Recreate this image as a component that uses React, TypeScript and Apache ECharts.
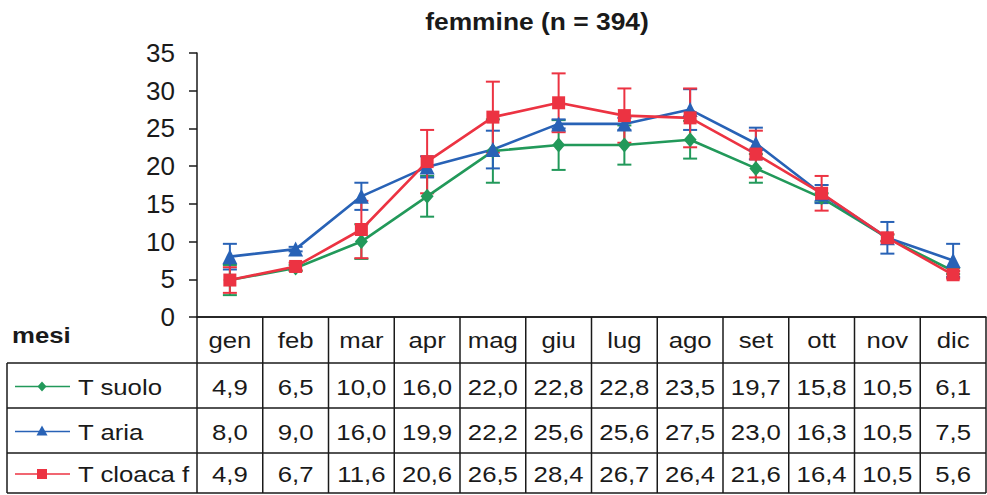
import React, { useEffect, useRef } from "react";
import * as echarts from "echarts";

// Monthly mean temperatures (°C) and their standard deviations
const months = ["gen", "feb", "mar", "apr", "mag", "giu", "lug", "ago", "set", "ott", "nov", "dic"];
const tSuolo = [4.9, 6.5, 10.0, 16.0, 22.0, 22.8, 22.8, 23.5, 19.7, 15.8, 10.5, 6.1];
const tAria = [8.0, 9.0, 16.0, 19.9, 22.2, 25.6, 25.6, 27.5, 23.0, 16.3, 10.5, 7.5];
const tCloaca = [4.9, 6.7, 11.6, 20.6, 26.5, 28.4, 26.7, 26.4, 21.6, 16.4, 10.5, 5.6];
const sdSuolo = [2.0, 0.4, 2.3, 2.7, 4.2, 3.3, 2.6, 2.5, 1.9, 0.6, 0.4, 0.4];
const sdAria = [1.7, 0.3, 1.8, 1.4, 2.5, 0.6, 0.8, 2.7, 2.1, 1.2, 2.1, 2.2];
const sdCloaca = [1.7, 0.5, 3.8, 4.2, 4.7, 3.9, 3.6, 3.9, 3.1, 2.3, 0.5, 0.5];
const seriesNames = ["T suolo", "T aria", "T cloaca f"];
const titleText = "femmine (n = 394)";
const rowHeaderText = "mesi";

const GREEN = "#22995a";
const BLUE = "#2862b6";
const RED = "#ec3342";
const FONT = "Liberation Sans, Arial, sans-serif";
const INK = "#1a1a1a";
const TEXT_STRETCH = 1.12;

const fmt = (v: number) => v.toFixed(1).replace(".", ",");

function errorSeries(values: number[], sd: number[], color: string) {
  return {
    type: "custom",
    renderItem: (_params: any, api: any) => {
      const i = api.value(0);
      const v = api.value(1);
      const e = api.value(2);
      const top = api.coord([i, v + e]);
      const bot = api.coord([i, v - e]);
      const cap = 7;
      const style = { stroke: color, lineWidth: 2 };
      return {
        type: "group",
        children: [
          { type: "line", shape: { x1: top[0], y1: top[1], x2: bot[0], y2: bot[1] }, style },
          { type: "line", shape: { x1: top[0] - cap, y1: top[1], x2: top[0] + cap, y2: top[1] }, style },
          { type: "line", shape: { x1: bot[0] - cap, y1: bot[1], x2: bot[0] + cap, y2: bot[1] }, style },
        ],
      };
    },
    encode: { x: 0, y: 1 },
    data: values.map((v, i) => [i, v, sd[i]]),
    silent: true,
  };
}

function lineSeries(name: string, values: number[], color: string, symbol: string, size: any) {
  return {
    name,
    type: "line",
    data: values,
    symbol,
    symbolSize: size,
    lineStyle: { color, width: 2.6 },
    itemStyle: { color },
  };
}

export default function App() {
  const ref = useRef<HTMLDivElement>(null);

  useEffect(() => {
    if (!ref.current) return;
    const chart = echarts.init(ref.current, null, { renderer: "svg" });
    chart.setOption({
      animation: false,
      backgroundColor: "#ffffff",
      grid: { left: 197, right: 1, top: 53, bottom: 178, outerBoundsMode: "none" },
      xAxis: {
        type: "category",
        data: months,
        boundaryGap: true,
        axisLine: { show: true, lineStyle: { color: INK, width: 1.5 } },
        axisTick: { show: false },
        axisLabel: { show: false },
        splitLine: { show: false },
      },
      yAxis: {
        type: "value",
        min: 0,
        max: 35,
        interval: 5,
        axisLine: { show: true, lineStyle: { color: INK, width: 1.5 } },
        axisTick: { show: true, length: 8, lineStyle: { color: INK, width: 1.5 } },
        axisLabel: { color: INK, fontSize: 26, fontFamily: FONT, margin: 22 },
        splitLine: { show: false },
      },
      series: [
        errorSeries(tSuolo, sdSuolo, GREEN),
        lineSeries(seriesNames[0], tSuolo, GREEN, "diamond", [13, 15]),
        errorSeries(tAria, sdAria, BLUE),
        lineSeries(seriesNames[1], tAria, BLUE, "triangle", 15),
        errorSeries(tCloaca, sdCloaca, RED),
        lineSeries(seriesNames[2], tCloaca, RED, "rect", 13),
      ],
    });

    // Data table under the plot, aligned on the category axis
    const centers = months.map((m) => chart.convertToPixel({ xAxisIndex: 0 }, m) as number);
    const colW = centers[1] - centers[0];
    const tableLeft = centers[0] - colW / 2;
    const tableRight = centers[centers.length - 1] + colW / 2;
    const rowLines = [317, 363, 408, 453, 493];
    const outerLeft = 7;
    const lineStyle = { stroke: INK, lineWidth: 1.5 };
    const els: any[] = [];

    els.push({
      type: "text",
      x: 537,
      y: 21,
      scaleX: 1.1,
      style: { text: titleText, fontSize: 24, fontWeight: "bold", fontFamily: FONT, fill: INK, align: "center", verticalAlign: "middle" },
    });

    // horizontal rules
    els.push({ type: "line", shape: { x1: tableLeft, y1: rowLines[0], x2: tableRight, y2: rowLines[0] }, style: lineStyle });
    for (let r = 1; r < rowLines.length; r++) {
      els.push({ type: "line", shape: { x1: outerLeft, y1: rowLines[r], x2: tableRight, y2: rowLines[r] }, style: lineStyle });
    }
    // vertical rules
    els.push({ type: "line", shape: { x1: outerLeft, y1: rowLines[1], x2: outerLeft, y2: rowLines[4] }, style: lineStyle });
    for (let c = 0; c <= months.length; c++) {
      const x = tableLeft + c * colW;
      els.push({ type: "line", shape: { x1: x, y1: rowLines[0], x2: x, y2: rowLines[4] }, style: lineStyle });
    }

    const cellText = (text: string, x: number, y: number, align = "center", bold = false) => ({
      type: "text",
      x,
      y,
      scaleX: TEXT_STRETCH,
      style: { text, fontSize: 23, fontFamily: FONT, fontWeight: bold ? "bold" : "normal", fill: INK, align, verticalAlign: "middle" },
    });

    els.push(cellText(rowHeaderText, 12, 335, "left", true));
    months.forEach((m, i) => els.push(cellText(m, centers[i], 340)));

    const rows = [
      { values: tSuolo, color: GREEN, marker: "diamond" },
      { values: tAria, color: BLUE, marker: "triangle" },
      { values: tCloaca, color: RED, marker: "square" },
    ];
    rows.forEach((row, r) => {
      const yc = (rowLines[r + 1] + rowLines[r + 2]) / 2 + 1;
      els.push({ type: "line", shape: { x1: 15, y1: yc, x2: 70, y2: yc }, style: { stroke: row.color, lineWidth: 1.5 } });
      const mx = 42;
      if (row.marker === "diamond") {
        els.push({ type: "polygon", shape: { points: [[mx, yc - 5], [mx + 4.5, yc], [mx, yc + 5], [mx - 4.5, yc]] }, style: { fill: row.color } });
      } else if (row.marker === "triangle") {
        els.push({ type: "polygon", shape: { points: [[mx, yc - 6], [mx + 5.5, yc + 4], [mx - 5.5, yc + 4]] }, style: { fill: row.color } });
      } else {
        els.push({ type: "rect", shape: { x: mx - 5, y: yc - 5, width: 10, height: 10 }, style: { fill: row.color } });
      }
      els.push(cellText(seriesNames[r], 78, yc, "left"));
      row.values.forEach((v, i) => els.push(cellText(fmt(v), centers[i], yc)));
    });

    chart.setOption({ graphic: els });
    return () => chart.dispose();
  }, []);

  return <div ref={ref} style={{ position: "fixed", left: 0, top: 0, width: 987, height: 495 }} />;
}
